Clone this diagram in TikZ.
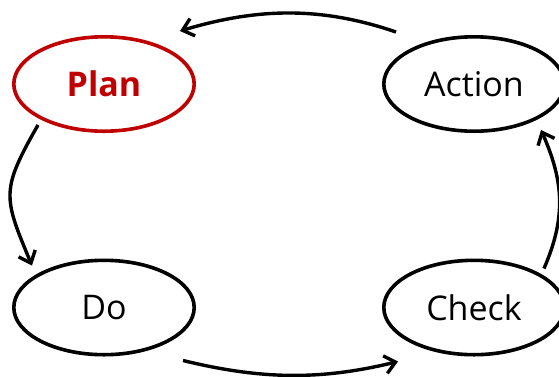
\documentclass[tikz,border=0pt]{standalone}
\usepackage{fontspec}
\setmainfont{Open Sans}
\usetikzlibrary{shapes.geometric,arrows.meta,calc}
\definecolor{planred}{HTML}{C00000}
\begin{document}
\begin{tikzpicture}[x=1pt,y=-1pt,
  phase/.style={ellipse,draw,line width=3.6pt,minimum width=180.4pt,minimum height=94.4pt,
    inner sep=0pt,outer sep=0pt,font=\fontsize{34}{40}\selectfont},
  cycle arrow/.style={line width=3.4pt,-{Straight Barb[length=10.5pt,width=18pt]}}]
\useasboundingbox (0,0) rectangle (559,376);

% the four PDCA phases
\node[phase,draw=planred,text=planred,font=\fontsize{34}{40}\selectfont\bfseries] (plan) at (104,84) {Plan};
\node[phase] (action) at (474,84) {Action};
\node[phase] (do) at (104,307.5) {Do};
\node[phase] (check) at (474,307.5) {Check};

% cycle arrows between the phases
\draw[cycle arrow] ($(action)+(-78,-52)$) .. controls ($(action)+(-154,-78)$) and ($(plan)+(153,-76)$) .. ($(plan)+(76,-53)$);
\draw[cycle arrow] ($(plan)+(-66,41)$) .. controls ($(plan)+(-103,106)$) and ($(do)+(-101,-111)$) .. ($(do)+(-72,-42)$);
\draw[cycle arrow] ($(do)+(79,53)$) .. controls ($(do)+(157,72)$) and ($(check)+(-154,73)$) .. ($(check)+(-76,54)$);
\draw[cycle arrow] ($(check)+(70,-39)$) .. controls ($(check)+(92,-90)$) and ($(action)+(90,98)$) .. ($(action)+(67,46)$);
\end{tikzpicture}
\end{document}
